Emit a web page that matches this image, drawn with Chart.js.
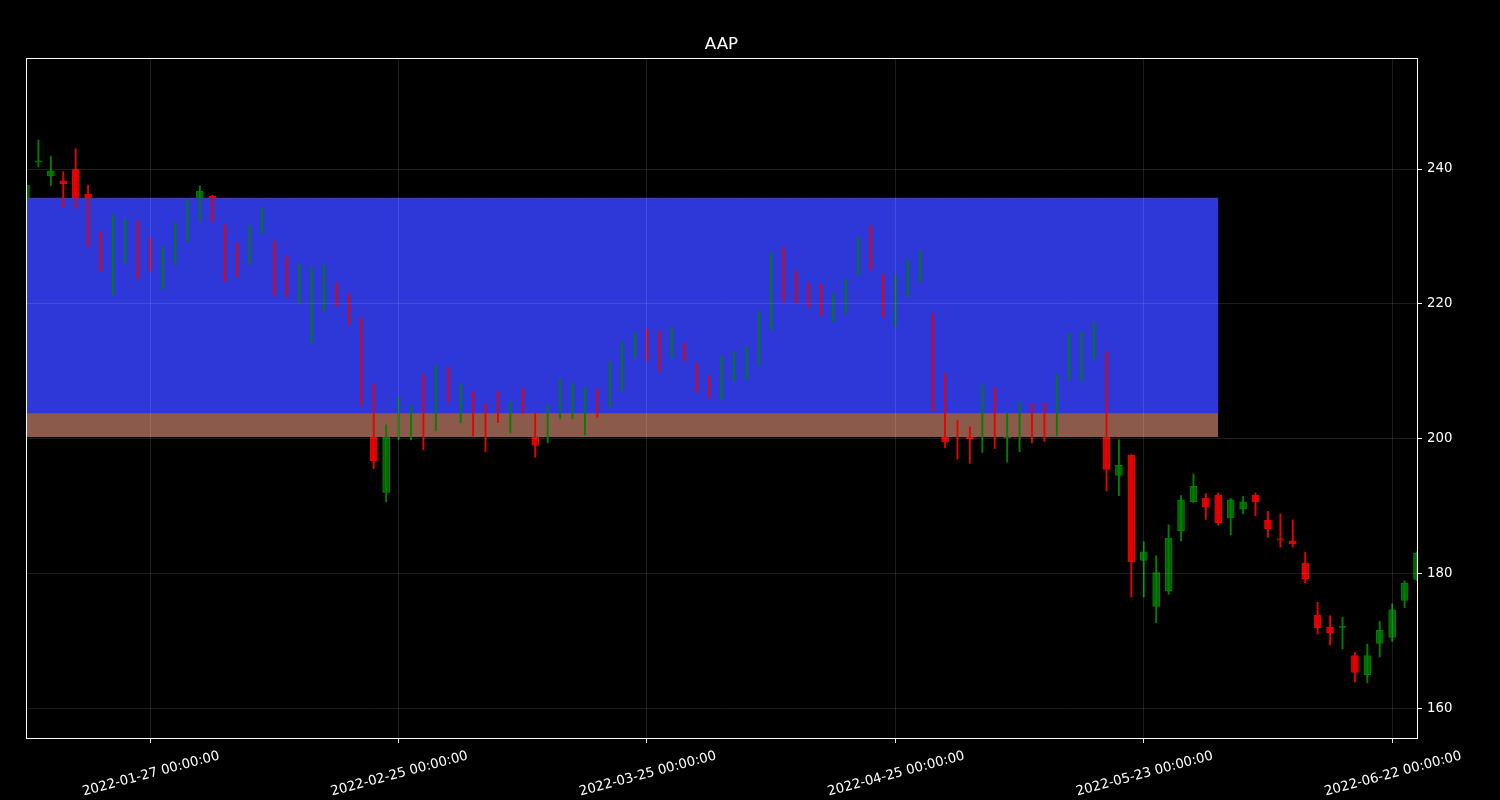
<!DOCTYPE html>
<html><head><meta charset="utf-8">
<script src="https://cdn.jsdelivr.net/npm/chart.js@4.4.1/dist/chart.umd.min.js"></script>
<style>html,body{margin:0;padding:0;background:#000;}#wrap{width:1500px;height:800px;position:relative;}</style>
</head><body><div id="wrap"><canvas id="c"></canvas></div>
<script>
const dates = [
'2022-01-12','2022-01-13','2022-01-14','2022-01-18','2022-01-19','2022-01-20','2022-01-21','2022-01-24','2022-01-25','2022-01-26','2022-01-27','2022-01-28','2022-01-31',
'2022-02-01','2022-02-02','2022-02-03','2022-02-04','2022-02-07','2022-02-08','2022-02-09','2022-02-10','2022-02-11','2022-02-14','2022-02-15','2022-02-16','2022-02-17','2022-02-18','2022-02-22','2022-02-23','2022-02-24','2022-02-25','2022-02-28',
'2022-03-01','2022-03-02','2022-03-03','2022-03-04','2022-03-07','2022-03-08','2022-03-09','2022-03-10','2022-03-11','2022-03-14','2022-03-15','2022-03-16','2022-03-17','2022-03-18','2022-03-21','2022-03-22','2022-03-23','2022-03-24','2022-03-25','2022-03-28','2022-03-29','2022-03-30','2022-03-31',
'2022-04-01','2022-04-04','2022-04-05','2022-04-06','2022-04-07','2022-04-08','2022-04-11','2022-04-12','2022-04-13','2022-04-14','2022-04-18','2022-04-19','2022-04-20','2022-04-21','2022-04-22','2022-04-25','2022-04-26','2022-04-27','2022-04-28','2022-04-29',
'2022-05-02','2022-05-03','2022-05-04','2022-05-05','2022-05-06','2022-05-09','2022-05-10','2022-05-11','2022-05-12','2022-05-13','2022-05-16','2022-05-17','2022-05-18','2022-05-19','2022-05-20','2022-05-23','2022-05-24','2022-05-25','2022-05-26','2022-05-27','2022-05-31',
'2022-06-01','2022-06-02','2022-06-03','2022-06-06','2022-06-07','2022-06-08','2022-06-09','2022-06-10','2022-06-13','2022-06-14','2022-06-15','2022-06-16','2022-06-17','2022-06-21','2022-06-22','2022-06-23','2022-06-24'];

const opens = [234.0,241.0,239.0,238.2,239.9,236.3,229.5,223.0,227.5,231.0,229.0,223.5,227.0,230.0,233.5,236.0,230.0,228.0,227.0,231.0,
228.0,226.0,221.0,216.0,220.0,222.5,221.0,217.0,204.0,192.1,201.0,201.0,208.0,203.0,210.0,203.5,206.0,204.0,206.0,202.0,
207.0,201.5,200.5,204.0,204.0,201.5,207.0,205.5,208.0,212.5,216.0,215.5,212.5,214.0,211.0,209.0,206.5,209.0,209.5,211.5,
217.0,228.0,224.5,222.5,222.0,218.0,219.0,225.0,231.0,224.0,217.5,221.5,223.5,218.0,203.0,202.0,201.0,201.0,207.0,200.2,
201.0,204.5,204.5,201.5,209.5,209.0,212.5,211.0,194.6,197.6,182.0,175.2,177.5,186.4,190.7,191.2,191.7,188.3,189.6,191.7,
188.0,185.2,184.9,181.6,173.9,172.1,172.1,167.9,165.1,169.7,170.6,176.1,179.2];
const highs = [238.2,244.3,241.9,239.6,243.0,237.6,230.7,233.3,232.6,232.3,229.8,228.5,232.0,235.4,237.5,236.1,231.7,229.0,231.6,234.3,
229.3,227.0,225.9,225.4,225.8,223.1,221.5,217.9,208.1,202.1,206.2,204.9,209.6,210.9,210.6,208.1,207.0,205.2,207.1,205.5,
207.5,203.9,205.0,208.9,208.3,207.7,207.4,211.5,214.4,215.7,216.3,216.0,216.5,214.2,211.2,209.3,212.3,212.9,213.7,218.9,
227.6,228.4,224.9,223.1,223.0,221.5,223.7,229.9,231.6,224.4,224.2,226.5,227.9,218.6,209.7,202.8,201.8,208.0,207.6,203.9,
205.5,205.3,205.3,209.6,215.7,215.9,217.3,212.9,199.9,197.7,184.8,182.7,187.3,191.6,194.8,191.9,192.0,191.2,191.5,192.0,
189.3,188.9,188.0,183.2,175.8,173.8,173.6,168.4,169.6,173.0,175.6,179.0,183.3];
const lows = [232.5,240.3,237.5,234.3,234.2,228.5,224.8,221.3,226.0,223.7,224.9,222.2,225.9,229.2,232.3,232.2,223.3,224.0,225.9,230.5,
221.2,221.1,220.1,214.2,218.9,219.6,217.0,204.9,195.6,190.7,199.9,199.9,198.4,201.2,205.5,202.4,200.4,198.1,202.4,200.9,
203.8,197.3,199.4,203.0,203.0,200.6,203.2,204.7,207.1,212.1,211.6,210.0,212.0,211.6,206.9,206.1,205.8,208.6,208.9,210.9,
216.1,220.4,220.1,219.5,218.3,217.4,218.6,224.3,225.1,218.1,216.6,221.1,223.2,204.1,198.7,197.0,196.4,198.0,198.6,196.6,
198.1,199.4,199.6,200.5,208.8,208.6,211.8,192.3,191.6,176.6,176.6,172.8,177.0,184.9,190.6,188.1,187.2,185.8,188.9,188.6,
185.4,184.0,184.0,178.7,171.1,169.5,168.9,164.0,163.9,167.7,170.0,175.0,179.0];
const closes = [237.6,241.2,239.7,237.8,235.0,231.0,226.0,231.0,231.0,225.0,226.0,227.5,231.0,234.5,236.7,235.3,225.0,225.0,230.5,233.5,
222.0,222.0,225.0,224.0,225.0,220.0,218.0,206.0,196.8,201.0,204.0,204.0,202.0,209.0,206.0,207.0,201.5,201.0,203.0,204.5,
204.5,199.1,204.0,208.0,207.5,206.5,204.0,211.0,214.0,215.0,212.0,211.0,216.0,212.0,207.5,206.5,211.5,212.5,213.0,218.0,
227.0,221.0,220.5,220.0,219.0,221.0,223.0,229.0,226.0,219.0,223.5,226.0,227.5,205.0,199.6,200.8,200.0,206.0,201.0,200.4,
204.5,201.0,201.0,208.5,215.0,215.0,216.8,195.5,196.1,181.8,183.3,180.2,185.3,191.0,193.0,189.9,187.6,191.0,190.7,190.7,
186.7,185.0,184.5,179.3,172.0,171.3,172.3,165.4,167.9,171.7,174.7,178.6,183.1];

const tickDates = ['2022-01-27','2022-02-25','2022-03-25','2022-04-25','2022-05-23','2022-06-22'];
const yTickValues = [160, 180, 200, 220, 240];
const yMin = 155.7, yMax = 256.44;

// Zone box
const zoneTop = 235.66, zoneMid = 203.8, zoneBottom = 200.3;
const zoneStart = '2022-01-12', zoneEnd = '2022-06-01';

const UP_FILL = 'rgb(0,100,0)', UP_LINE = 'rgb(0,128,0)';
const DN_FILL = 'rgb(215,0,0)', DN_LINE = 'rgb(235,0,0)';
const GRID = 'rgba(255,255,255,0.11)';
const FONT = 'DejaVu Sans';

const isUp = i => closes[i] >= opens[i];
const iStart = dates.indexOf(zoneStart), iEnd = dates.indexOf(zoneEnd);
const zoneData = dates.map((d, i) => (i >= iStart && i <= iEnd) ? zoneTop : null);
const isTick = i => tickDates.includes(dates[i]);

const framePlugin = {
  id: 'frame',
  afterDraw(chart) {
    const a = chart.chartArea, ctx = chart.ctx;
    ctx.save();
    ctx.strokeStyle = '#ffffff';
    ctx.lineWidth = 1;
    ctx.strokeRect(Math.round(a.left) + 0.5, Math.round(a.top) + 0.5, Math.round(a.right - a.left), Math.round(a.bottom - a.top));
    ctx.restore();
  }
};

new Chart(document.getElementById('c'), {
  data: {
    labels: dates,
    datasets: [
      { type: 'bar', label: 'wicks', order: 0, grouped: false, clip: 0,
        data: dates.map((d, i) => [lows[i], highs[i]]),
        backgroundColor: dates.map((d, i) => isUp(i) ? UP_LINE : DN_LINE),
        borderWidth: 0, barThickness: 1.2 },
      { type: 'line', label: 'zoneBlue', order: 1, clip: 0,
        data: zoneData, borderColor: 'rgba(0,0,0,0)', borderWidth: 0, pointRadius: 0,
        backgroundColor: 'rgb(46,56,216)', fill: { value: zoneMid }, spanGaps: false },
      { type: 'line', label: 'zoneBrown', order: 2, clip: 0,
        data: zoneData, borderColor: 'rgb(120,70,60)', borderWidth: 1, pointRadius: 0,
        backgroundColor: 'rgb(140,90,75)', fill: { value: zoneBottom }, spanGaps: false },
      { type: 'bar', label: 'bodies', order: 3, grouped: false, clip: 0,
        data: dates.map((d, i) => [opens[i], closes[i]]),
        backgroundColor: dates.map((d, i) => isUp(i) ? UP_FILL : DN_FILL),
        borderColor: dates.map((d, i) => isUp(i) ? UP_LINE : DN_LINE),
        borderWidth: 1, borderSkipped: false, barThickness: 7 }
    ]
  },
  options: {
    responsive: true, maintainAspectRatio: false, animation: false,
    layout: { padding: { left: 26, right: 0, top: 0, bottom: 0 } },
    plugins: {
      legend: { display: false }, tooltip: { enabled: false },
      title: { display: true, text: 'AAP', color: '#ffffff', fullSize: false,
        font: { family: FONT, size: 16.7, weight: 'normal' }, padding: { top: 35, bottom: 3 } }
    },
    scales: {
      x: {
        type: 'category', offset: false,
        grid: { offset: false, z: 1, lineWidth: 1,
          color: c => isTick(c.index) ? GRID : 'rgba(0,0,0,0)',
          tickColor: c => isTick(c.index) ? '#ffffff' : 'rgba(0,0,0,0)', tickLength: 5 },
        border: { display: false },
        ticks: { autoSkip: false, minRotation: 15, maxRotation: 15, color: '#ffffff', padding: 5, labelOffset: 69,
          font: { family: FONT, size: 13.3 },
          callback: (v, i) => isTick(i) ? dates[i] + ' 00:00:00' : '' },
        afterFit: s => { s.height = 62; }
      },
      y: {
        type: 'linear', position: 'right', min: yMin, max: yMax,
        afterBuildTicks: s => { s.ticks = yTickValues.map(v => ({ value: v })); },
        grid: { z: 1, color: GRID, tickColor: '#ffffff', tickLength: 5, lineWidth: 1 },
        border: { display: false },
        ticks: { color: '#ffffff', padding: 5, font: { family: FONT, size: 13.3 }, callback: v => String(v) },
        afterFit: s => { s.width = 83; }
      }
    }
  },
  plugins: [framePlugin]
});
</script></body></html>
